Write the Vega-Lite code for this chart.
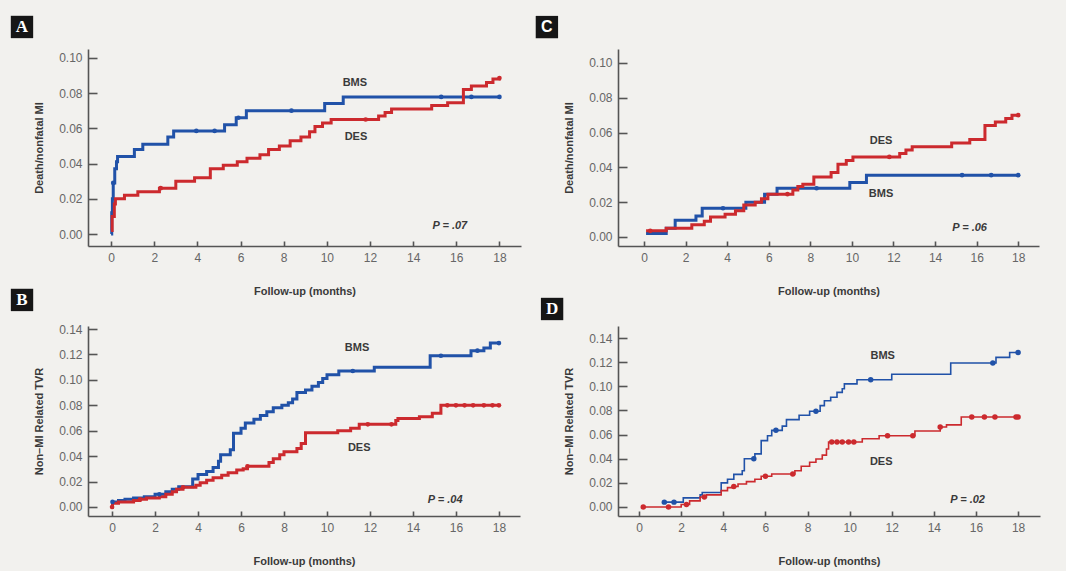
{
  "$schema": "https://vega.github.io/schema/vega-lite/v6.json",
  "background": "#f2f1ee",
  "padding": {"left": 10, "top": 15, "right": 26, "bottom": 5},
  "config": {
    "view": {"stroke": null},
    "axis": {"grid": false, "domainColor": "#555", "domainWidth": 1.6, "tickColor": "#555", "tickWidth": 1.6, "tickSize": -5,
      "labelFont": "Liberation Sans", "labelFontSize": 12, "labelColor": "#666", "labelPadding": 11,
      "titleFont": "Liberation Sans", "titleFontSize": 11, "titleFontWeight": "bold", "titleColor": "#3a3a3a"},
    "axisX": {"titlePadding": 22},
    "axisY": {"titlePadding": 14, "tickSize": -9, "labelPadding": 15}
  },
  "datasets": {
    "km": [
      {"panel":"A","group":"BMS","t":0,"v":0.0},{"panel":"A","group":"BMS","t":0.03,"v":0.012},{"panel":"A","group":"BMS","t":0.06,"v":0.02},{"panel":"A","group":"BMS","t":0.1,"v":0.029},{"panel":"A","group":"BMS","t":0.17,"v":0.037},{"panel":"A","group":"BMS","t":0.25,"v":0.041},{"panel":"A","group":"BMS","t":0.3,"v":0.044},{"panel":"A","group":"BMS","t":1.08,"v":0.048},{"panel":"A","group":"BMS","t":1.47,"v":0.051},{"panel":"A","group":"BMS","t":2.63,"v":0.055},{"panel":"A","group":"BMS","t":2.9,"v":0.0585},{"panel":"A","group":"BMS","t":5.26,"v":0.062},{"panel":"A","group":"BMS","t":5.8,"v":0.066},{"panel":"A","group":"BMS","t":6.27,"v":0.07},{"panel":"A","group":"BMS","t":9.9,"v":0.074},{"panel":"A","group":"BMS","t":10.76,"v":0.0778},{"panel":"A","group":"BMS","t":18,"v":0.0778},
      {"panel":"A","group":"DES","t":0,"v":0.002},{"panel":"A","group":"DES","t":0.05,"v":0.01},{"panel":"A","group":"DES","t":0.15,"v":0.017},{"panel":"A","group":"DES","t":0.2,"v":0.02},{"panel":"A","group":"DES","t":0.62,"v":0.022},{"panel":"A","group":"DES","t":1.24,"v":0.024},{"panel":"A","group":"DES","t":2.24,"v":0.026},{"panel":"A","group":"DES","t":3.0,"v":0.03},{"panel":"A","group":"DES","t":3.87,"v":0.032},{"panel":"A","group":"DES","t":4.6,"v":0.037},{"panel":"A","group":"DES","t":5.2,"v":0.039},{"panel":"A","group":"DES","t":5.85,"v":0.041},{"panel":"A","group":"DES","t":6.3,"v":0.043},{"panel":"A","group":"DES","t":6.9,"v":0.045},{"panel":"A","group":"DES","t":7.3,"v":0.048},{"panel":"A","group":"DES","t":7.8,"v":0.05},{"panel":"A","group":"DES","t":8.3,"v":0.053},{"panel":"A","group":"DES","t":8.8,"v":0.055},{"panel":"A","group":"DES","t":9.2,"v":0.058},{"panel":"A","group":"DES","t":9.45,"v":0.061},{"panel":"A","group":"DES","t":9.8,"v":0.063},{"panel":"A","group":"DES","t":10.2,"v":0.065},{"panel":"A","group":"DES","t":12.4,"v":0.067},{"panel":"A","group":"DES","t":12.7,"v":0.069},{"panel":"A","group":"DES","t":13.0,"v":0.071},{"panel":"A","group":"DES","t":14.86,"v":0.073},{"panel":"A","group":"DES","t":15.6,"v":0.0745},{"panel":"A","group":"DES","t":16.33,"v":0.082},{"panel":"A","group":"DES","t":16.7,"v":0.084},{"panel":"A","group":"DES","t":17.4,"v":0.086},{"panel":"A","group":"DES","t":17.7,"v":0.088},{"panel":"A","group":"DES","t":18,"v":0.0885},

      {"panel":"C","group":"BMS","t":0.1,"v":0.002},{"panel":"C","group":"BMS","t":1.07,"v":0.005},{"panel":"C","group":"BMS","t":1.5,"v":0.0096},{"panel":"C","group":"BMS","t":2.5,"v":0.012},{"panel":"C","group":"BMS","t":2.8,"v":0.0165},{"panel":"C","group":"BMS","t":4.9,"v":0.02},{"panel":"C","group":"BMS","t":5.8,"v":0.0245},{"panel":"C","group":"BMS","t":6.4,"v":0.028},{"panel":"C","group":"BMS","t":9.9,"v":0.0313},{"panel":"C","group":"BMS","t":10.7,"v":0.0355},{"panel":"C","group":"BMS","t":18,"v":0.0355},
      {"panel":"C","group":"DES","t":0.1,"v":0.0035},{"panel":"C","group":"DES","t":1.07,"v":0.005},{"panel":"C","group":"DES","t":2.3,"v":0.007},{"panel":"C","group":"DES","t":2.9,"v":0.009},{"panel":"C","group":"DES","t":3.2,"v":0.0115},{"panel":"C","group":"DES","t":3.9,"v":0.013},{"panel":"C","group":"DES","t":4.4,"v":0.015},{"panel":"C","group":"DES","t":4.8,"v":0.0184},{"panel":"C","group":"DES","t":5.35,"v":0.02},{"panel":"C","group":"DES","t":5.65,"v":0.022},{"panel":"C","group":"DES","t":5.96,"v":0.0246},{"panel":"C","group":"DES","t":7.16,"v":0.027},{"panel":"C","group":"DES","t":7.4,"v":0.029},{"panel":"C","group":"DES","t":7.64,"v":0.0303},{"panel":"C","group":"DES","t":8.17,"v":0.0345},{"panel":"C","group":"DES","t":9.0,"v":0.037},{"panel":"C","group":"DES","t":9.33,"v":0.0418},{"panel":"C","group":"DES","t":9.73,"v":0.044},{"panel":"C","group":"DES","t":10.05,"v":0.046},{"panel":"C","group":"DES","t":12.3,"v":0.048},{"panel":"C","group":"DES","t":12.6,"v":0.05},{"panel":"C","group":"DES","t":12.9,"v":0.0518},{"panel":"C","group":"DES","t":14.8,"v":0.054},{"panel":"C","group":"DES","t":15.67,"v":0.056},{"panel":"C","group":"DES","t":16.4,"v":0.064},{"panel":"C","group":"DES","t":16.9,"v":0.066},{"panel":"C","group":"DES","t":17.4,"v":0.068},{"panel":"C","group":"DES","t":17.7,"v":0.07},{"panel":"C","group":"DES","t":18,"v":0.07},

      {"panel":"B","group":"BMS","t":0,"v":0.0},{"panel":"B","group":"BMS","t":0.02,"v":0.004},{"panel":"B","group":"BMS","t":0.3,"v":0.005},{"panel":"B","group":"BMS","t":0.6,"v":0.006},{"panel":"B","group":"BMS","t":1.0,"v":0.007},{"panel":"B","group":"BMS","t":1.5,"v":0.008},{"panel":"B","group":"BMS","t":2.0,"v":0.01},{"panel":"B","group":"BMS","t":2.5,"v":0.012},{"panel":"B","group":"BMS","t":2.8,"v":0.014},{"panel":"B","group":"BMS","t":3.1,"v":0.016},{"panel":"B","group":"BMS","t":3.75,"v":0.022},{"panel":"B","group":"BMS","t":4.0,"v":0.0255},{"panel":"B","group":"BMS","t":4.4,"v":0.028},{"panel":"B","group":"BMS","t":4.7,"v":0.031},{"panel":"B","group":"BMS","t":4.95,"v":0.036},{"panel":"B","group":"BMS","t":5.05,"v":0.041},{"panel":"B","group":"BMS","t":5.5,"v":0.045},{"panel":"B","group":"BMS","t":5.65,"v":0.058},{"panel":"B","group":"BMS","t":6.0,"v":0.062},{"panel":"B","group":"BMS","t":6.2,"v":0.066},{"panel":"B","group":"BMS","t":6.6,"v":0.069},{"panel":"B","group":"BMS","t":6.9,"v":0.072},{"panel":"B","group":"BMS","t":7.2,"v":0.075},{"panel":"B","group":"BMS","t":7.5,"v":0.078},{"panel":"B","group":"BMS","t":7.9,"v":0.08},{"panel":"B","group":"BMS","t":8.2,"v":0.082},{"panel":"B","group":"BMS","t":8.4,"v":0.085},{"panel":"B","group":"BMS","t":8.6,"v":0.09},{"panel":"B","group":"BMS","t":9.0,"v":0.092},{"panel":"B","group":"BMS","t":9.3,"v":0.095},{"panel":"B","group":"BMS","t":9.6,"v":0.098},{"panel":"B","group":"BMS","t":9.8,"v":0.101},{"panel":"B","group":"BMS","t":10.0,"v":0.104},{"panel":"B","group":"BMS","t":10.55,"v":0.107},{"panel":"B","group":"BMS","t":12.2,"v":0.11},{"panel":"B","group":"BMS","t":14.8,"v":0.119},{"panel":"B","group":"BMS","t":16.7,"v":0.123},{"panel":"B","group":"BMS","t":17.3,"v":0.125},{"panel":"B","group":"BMS","t":17.6,"v":0.129},{"panel":"B","group":"BMS","t":18,"v":0.129},
      {"panel":"B","group":"DES","t":0,"v":0.0},{"panel":"B","group":"DES","t":0.02,"v":0.003},{"panel":"B","group":"DES","t":0.3,"v":0.004},{"panel":"B","group":"DES","t":1.0,"v":0.005},{"panel":"B","group":"DES","t":1.3,"v":0.006},{"panel":"B","group":"DES","t":1.6,"v":0.007},{"panel":"B","group":"DES","t":2.2,"v":0.008},{"panel":"B","group":"DES","t":2.5,"v":0.01},{"panel":"B","group":"DES","t":2.8,"v":0.012},{"panel":"B","group":"DES","t":3.0,"v":0.014},{"panel":"B","group":"DES","t":3.3,"v":0.0155},{"panel":"B","group":"DES","t":3.9,"v":0.017},{"panel":"B","group":"DES","t":4.1,"v":0.019},{"panel":"B","group":"DES","t":4.4,"v":0.021},{"panel":"B","group":"DES","t":4.7,"v":0.023},{"panel":"B","group":"DES","t":5.1,"v":0.025},{"panel":"B","group":"DES","t":5.4,"v":0.027},{"panel":"B","group":"DES","t":5.8,"v":0.029},{"panel":"B","group":"DES","t":6.1,"v":0.03},{"panel":"B","group":"DES","t":6.3,"v":0.032},{"panel":"B","group":"DES","t":7.3,"v":0.035},{"panel":"B","group":"DES","t":7.5,"v":0.038},{"panel":"B","group":"DES","t":7.8,"v":0.041},{"panel":"B","group":"DES","t":8.0,"v":0.0434},{"panel":"B","group":"DES","t":8.6,"v":0.046},{"panel":"B","group":"DES","t":8.8,"v":0.05},{"panel":"B","group":"DES","t":9.0,"v":0.0584},{"panel":"B","group":"DES","t":10.5,"v":0.06},{"panel":"B","group":"DES","t":11.1,"v":0.062},{"panel":"B","group":"DES","t":11.5,"v":0.065},{"panel":"B","group":"DES","t":13.2,"v":0.068},{"panel":"B","group":"DES","t":13.3,"v":0.0697},{"panel":"B","group":"DES","t":14.3,"v":0.071},{"panel":"B","group":"DES","t":14.9,"v":0.0737},{"panel":"B","group":"DES","t":15.3,"v":0.08},{"panel":"B","group":"DES","t":18,"v":0.08},

      {"panel":"D","group":"BMS","t":1.2,"v":0.004},{"panel":"D","group":"BMS","t":2.1,"v":0.0075},{"panel":"D","group":"BMS","t":2.9,"v":0.01},{"panel":"D","group":"BMS","t":3.0,"v":0.012},{"panel":"D","group":"BMS","t":3.9,"v":0.02},{"panel":"D","group":"BMS","t":4.2,"v":0.023},{"panel":"D","group":"BMS","t":4.5,"v":0.027},{"panel":"D","group":"BMS","t":4.9,"v":0.03},{"panel":"D","group":"BMS","t":5.0,"v":0.04},{"panel":"D","group":"BMS","t":5.5,"v":0.044},{"panel":"D","group":"BMS","t":5.8,"v":0.055},{"panel":"D","group":"BMS","t":6.1,"v":0.059},{"panel":"D","group":"BMS","t":6.3,"v":0.0635},{"panel":"D","group":"BMS","t":6.8,"v":0.067},{"panel":"D","group":"BMS","t":7.0,"v":0.0724},{"panel":"D","group":"BMS","t":7.6,"v":0.076},{"panel":"D","group":"BMS","t":8.1,"v":0.0793},{"panel":"D","group":"BMS","t":8.6,"v":0.084},{"panel":"D","group":"BMS","t":8.8,"v":0.088},{"panel":"D","group":"BMS","t":9.1,"v":0.091},{"panel":"D","group":"BMS","t":9.4,"v":0.095},{"panel":"D","group":"BMS","t":9.65,"v":0.098},{"panel":"D","group":"BMS","t":9.75,"v":0.102},{"panel":"D","group":"BMS","t":10.35,"v":0.1055},{"panel":"D","group":"BMS","t":12.0,"v":0.11},{"panel":"D","group":"BMS","t":14.8,"v":0.1193},{"panel":"D","group":"BMS","t":16.95,"v":0.124},{"panel":"D","group":"BMS","t":17.6,"v":0.128},{"panel":"D","group":"BMS","t":18,"v":0.128},
      {"panel":"D","group":"DES","t":0.2,"v":0.0},{"panel":"D","group":"DES","t":2.0,"v":0.002},{"panel":"D","group":"DES","t":2.4,"v":0.005},{"panel":"D","group":"DES","t":2.9,"v":0.0083},{"panel":"D","group":"DES","t":3.2,"v":0.01},{"panel":"D","group":"DES","t":3.9,"v":0.0135},{"panel":"D","group":"DES","t":4.2,"v":0.016},{"panel":"D","group":"DES","t":4.5,"v":0.017},{"panel":"D","group":"DES","t":4.7,"v":0.019},{"panel":"D","group":"DES","t":5.1,"v":0.021},{"panel":"D","group":"DES","t":5.5,"v":0.023},{"panel":"D","group":"DES","t":5.8,"v":0.0254},{"panel":"D","group":"DES","t":6.3,"v":0.0273},{"panel":"D","group":"DES","t":7.4,"v":0.03},{"panel":"D","group":"DES","t":7.7,"v":0.0337},{"panel":"D","group":"DES","t":8.1,"v":0.037},{"panel":"D","group":"DES","t":8.4,"v":0.0398},{"panel":"D","group":"DES","t":8.7,"v":0.043},{"panel":"D","group":"DES","t":8.9,"v":0.048},{"panel":"D","group":"DES","t":9.0,"v":0.0539},{"panel":"D","group":"DES","t":10.6,"v":0.0565},{"panel":"D","group":"DES","t":11.4,"v":0.059},{"panel":"D","group":"DES","t":13.1,"v":0.063},{"panel":"D","group":"DES","t":14.3,"v":0.0663},{"panel":"D","group":"DES","t":14.6,"v":0.068},{"panel":"D","group":"DES","t":15.3,"v":0.0746},{"panel":"D","group":"DES","t":18,"v":0.0746}
    ],
    "cens": [
      {"panel":"A","group":"BMS","t":0.1,"v":0.029},{"panel":"A","group":"BMS","t":3.95,"v":0.0585},{"panel":"A","group":"BMS","t":4.8,"v":0.0585},{"panel":"A","group":"BMS","t":5.9,"v":0.066},{"panel":"A","group":"BMS","t":8.36,"v":0.07},{"panel":"A","group":"BMS","t":15.3,"v":0.0778},{"panel":"A","group":"BMS","t":16.7,"v":0.0778},{"panel":"A","group":"BMS","t":18,"v":0.0778},
      {"panel":"A","group":"DES","t":2.3,"v":0.026},{"panel":"A","group":"DES","t":11.8,"v":0.065},{"panel":"A","group":"DES","t":18,"v":0.0885},
      {"panel":"C","group":"BMS","t":3.8,"v":0.0165},{"panel":"C","group":"BMS","t":8.3,"v":0.028},{"panel":"C","group":"BMS","t":15.3,"v":0.0355},{"panel":"C","group":"BMS","t":16.7,"v":0.0355},{"panel":"C","group":"BMS","t":18,"v":0.0355},
      {"panel":"C","group":"DES","t":0.3,"v":0.0035},{"panel":"C","group":"DES","t":6.9,"v":0.0246},{"panel":"C","group":"DES","t":11.8,"v":0.046},{"panel":"C","group":"DES","t":18,"v":0.07},
      {"panel":"B","group":"BMS","t":0.02,"v":0.004},{"panel":"B","group":"BMS","t":2.2,"v":0.01},{"panel":"B","group":"BMS","t":11.2,"v":0.107},{"panel":"B","group":"BMS","t":15.3,"v":0.119},{"panel":"B","group":"BMS","t":17.0,"v":0.123},{"panel":"B","group":"BMS","t":18,"v":0.129},
      {"panel":"B","group":"DES","t":0,"v":0.0},{"panel":"B","group":"DES","t":1.3,"v":0.006},{"panel":"B","group":"DES","t":3.3,"v":0.0155},{"panel":"B","group":"DES","t":6.3,"v":0.032},{"panel":"B","group":"DES","t":11.9,"v":0.065},{"panel":"B","group":"DES","t":13.0,"v":0.065},{"panel":"B","group":"DES","t":15.6,"v":0.08},{"panel":"B","group":"DES","t":16.0,"v":0.08},{"panel":"B","group":"DES","t":16.4,"v":0.08},{"panel":"B","group":"DES","t":16.8,"v":0.08},{"panel":"B","group":"DES","t":17.3,"v":0.08},{"panel":"B","group":"DES","t":17.7,"v":0.08},{"panel":"B","group":"DES","t":18,"v":0.08},
      {"panel":"D","group":"BMS","t":1.2,"v":0.004},{"panel":"D","group":"BMS","t":1.66,"v":0.004},{"panel":"D","group":"BMS","t":5.45,"v":0.04},{"panel":"D","group":"BMS","t":6.5,"v":0.0635},{"panel":"D","group":"BMS","t":8.4,"v":0.0793},{"panel":"D","group":"BMS","t":11.0,"v":0.1055},{"panel":"D","group":"BMS","t":16.8,"v":0.1193},{"panel":"D","group":"BMS","t":18,"v":0.128},
      {"panel":"D","group":"DES","t":0.2,"v":0.0},{"panel":"D","group":"DES","t":1.4,"v":0.0},{"panel":"D","group":"DES","t":2.25,"v":0.002},{"panel":"D","group":"DES","t":3.1,"v":0.0083},{"panel":"D","group":"DES","t":4.5,"v":0.017},{"panel":"D","group":"DES","t":6.0,"v":0.0254},{"panel":"D","group":"DES","t":7.3,"v":0.0273},{"panel":"D","group":"DES","t":9.15,"v":0.0539},{"panel":"D","group":"DES","t":9.4,"v":0.0539},{"panel":"D","group":"DES","t":9.65,"v":0.0539},{"panel":"D","group":"DES","t":9.95,"v":0.0539},{"panel":"D","group":"DES","t":10.2,"v":0.0539},{"panel":"D","group":"DES","t":11.8,"v":0.059},{"panel":"D","group":"DES","t":13.0,"v":0.059},{"panel":"D","group":"DES","t":14.3,"v":0.0663},{"panel":"D","group":"DES","t":15.8,"v":0.0746},{"panel":"D","group":"DES","t":16.4,"v":0.0746},{"panel":"D","group":"DES","t":16.9,"v":0.0746},{"panel":"D","group":"DES","t":17.9,"v":0.0746},{"panel":"D","group":"DES","t":18,"v":0.0746}
    ],
    "ann": [
      {"panel":"A","kind":"grp","t":11.3,"v":0.0856,"label":"BMS"},{"panel":"A","kind":"grp","t":11.35,"v":0.055,"label":"DES"},{"panel":"A","kind":"p","t":15.7,"v":0.0045,"label":"P = .07"},{"panel":"A","kind":"box","t":-4.13,"v":0.1175,"label":"A"},
      {"panel":"C","kind":"grp","t":11.4,"v":0.0553,"label":"DES"},{"panel":"C","kind":"grp","t":11.4,"v":0.0246,"label":"BMS"},{"panel":"C","kind":"p","t":15.66,"v":0.0054,"label":"P = .06"},{"panel":"C","kind":"box","t":-4.67,"v":0.1206,"label":"C"},
      {"panel":"B","kind":"grp","t":11.4,"v":0.1247,"label":"BMS"},{"panel":"B","kind":"grp","t":11.5,"v":0.0466,"label":"DES"},{"panel":"B","kind":"p","t":15.5,"v":0.0058,"label":"P = .04"},{"panel":"B","kind":"box","t":-4.19,"v":0.1629,"label":"B"},
      {"panel":"D","kind":"grp","t":11.57,"v":0.1254,"label":"BMS"},{"panel":"D","kind":"grp","t":11.5,"v":0.037,"label":"DES"},{"panel":"D","kind":"p","t":15.6,"v":0.006,"label":"P = .02"},{"panel":"D","kind":"box","t":-4.13,"v":0.1641,"label":"D"}
    ]
  },
  "columns": 2,
  "spacing": {"row": 80, "column": 97},
  "bounds": "flush",
  "concat": [
    {
      "width": 433, "height": 197,
      "encoding": {
        "x": {"field": "t", "type": "quantitative", "scale": {"domain": [-1.07, 19.0], "nice": false, "zero": false}, "axis": {"values": [0,2,4,6,8,10,12,14,16,18], "title": "Follow-up (months)"}},
        "y": {"field": "v", "type": "quantitative", "scale": {"domain": [-0.0068, 0.105], "nice": false, "zero": false}, "axis": {"values": [0,0.02,0.04,0.06,0.08,0.1], "format": ".2f", "title": "Death/nonfatal MI"}}
      },
      "layer": [
        {"data": {"name": "km"}, "transform": [{"filter": "datum.panel === 'A'"}], "mark": {"type": "line", "interpolate": "step-after", "strokeWidth": 3},
         "encoding": {"color": {"field": "group", "type": "nominal", "scale": {"domain": ["BMS", "DES"], "range": ["#2152a8", "#cc2a2e"]}, "legend": null}}},
        {"data": {"name": "cens"}, "transform": [{"filter": "datum.panel === 'A'"}], "mark": {"type": "point", "filled": true, "size": 22, "opacity": 1},
         "encoding": {"color": {"field": "group", "type": "nominal", "scale": {"domain": ["BMS", "DES"], "range": ["#2152a8", "#cc2a2e"]}, "legend": null}}},
        {"data": {"name": "ann"}, "transform": [{"filter": "datum.panel === 'A' && datum.kind === 'grp'"}], "mark": {"type": "text", "font": "Liberation Sans", "fontWeight": "bold", "fontSize": 11, "color": "#3a3a3a"}, "encoding": {"text": {"field": "label"}}},
        {"data": {"name": "ann"}, "transform": [{"filter": "datum.panel === 'A' && datum.kind === 'p'"}], "mark": {"type": "text", "font": "Liberation Sans", "fontWeight": "bold", "fontStyle": "italic", "fontSize": 11, "color": "#3a3a3a"}, "encoding": {"text": {"field": "label"}}},
        {"data": {"name": "ann"}, "transform": [{"filter": "datum.panel === 'A' && datum.kind === 'box'"}], "mark": {"type": "square", "size": 500, "color": "#161616", "opacity": 1}},
        {"data": {"name": "ann"}, "transform": [{"filter": "datum.panel === 'A' && datum.kind === 'box'"}], "mark": {"type": "text", "font": "Liberation Serif", "fontWeight": "bold", "fontSize": 17, "color": "white"}, "encoding": {"text": {"field": "label"}}}
      ]
    },
    {
      "width": 421, "height": 197,
      "encoding": {
        "x": {"field": "t", "type": "quantitative", "scale": {"domain": [-1.25, 19.0], "nice": false, "zero": false}, "axis": {"values": [0,2,4,6,8,10,12,14,16,18], "title": "Follow-up (months)"}},
        "y": {"field": "v", "type": "quantitative", "scale": {"domain": [-0.0052, 0.108], "nice": false, "zero": false}, "axis": {"values": [0,0.02,0.04,0.06,0.08,0.1], "format": ".2f", "title": "Death/nonfatal MI"}}
      },
      "layer": [
        {"data": {"name": "km"}, "transform": [{"filter": "datum.panel === 'C'"}], "mark": {"type": "line", "interpolate": "step-after", "strokeWidth": 3},
         "encoding": {"color": {"field": "group", "type": "nominal", "scale": {"domain": ["BMS", "DES"], "range": ["#2152a8", "#cc2a2e"]}, "legend": null}}},
        {"data": {"name": "cens"}, "transform": [{"filter": "datum.panel === 'C'"}], "mark": {"type": "point", "filled": true, "size": 22, "opacity": 1},
         "encoding": {"color": {"field": "group", "type": "nominal", "scale": {"domain": ["BMS", "DES"], "range": ["#2152a8", "#cc2a2e"]}, "legend": null}}},
        {"data": {"name": "ann"}, "transform": [{"filter": "datum.panel === 'C' && datum.kind === 'grp'"}], "mark": {"type": "text", "font": "Liberation Sans", "fontWeight": "bold", "fontSize": 11, "color": "#3a3a3a"}, "encoding": {"text": {"field": "label"}}},
        {"data": {"name": "ann"}, "transform": [{"filter": "datum.panel === 'C' && datum.kind === 'p'"}], "mark": {"type": "text", "font": "Liberation Sans", "fontWeight": "bold", "fontStyle": "italic", "fontSize": 11, "color": "#3a3a3a"}, "encoding": {"text": {"field": "label"}}},
        {"data": {"name": "ann"}, "transform": [{"filter": "datum.panel === 'C' && datum.kind === 'box'"}], "mark": {"type": "square", "size": 500, "color": "#161616", "opacity": 1}},
        {"data": {"name": "ann"}, "transform": [{"filter": "datum.panel === 'C' && datum.kind === 'box'"}], "mark": {"type": "text", "font": "Liberation Sans", "fontWeight": "bold", "fontSize": 16, "color": "white"}, "encoding": {"text": {"field": "label"}}}
      ]
    },
    {
      "width": 432, "height": 190,
      "encoding": {
        "x": {"field": "t", "type": "quantitative", "scale": {"domain": [-1.12, 18.98], "nice": false, "zero": false}, "axis": {"values": [0,2,4,6,8,10,12,14,16,18], "title": "Follow-up (months)"}},
        "y": {"field": "v", "type": "quantitative", "scale": {"domain": [-0.0071, 0.1424], "nice": false, "zero": false}, "axis": {"values": [0,0.02,0.04,0.06,0.08,0.1,0.12,0.14], "format": ".2f", "title": "Non\u2013MI Related TVR"}}
      },
      "layer": [
        {"data": {"name": "km"}, "transform": [{"filter": "datum.panel === 'B'"}], "mark": {"type": "line", "interpolate": "step-after", "strokeWidth": 3},
         "encoding": {"color": {"field": "group", "type": "nominal", "scale": {"domain": ["BMS", "DES"], "range": ["#2152a8", "#cc2a2e"]}, "legend": null}}},
        {"data": {"name": "cens"}, "transform": [{"filter": "datum.panel === 'B'"}], "mark": {"type": "point", "filled": true, "size": 22, "opacity": 1},
         "encoding": {"color": {"field": "group", "type": "nominal", "scale": {"domain": ["BMS", "DES"], "range": ["#2152a8", "#cc2a2e"]}, "legend": null}}},
        {"data": {"name": "ann"}, "transform": [{"filter": "datum.panel === 'B' && datum.kind === 'grp'"}], "mark": {"type": "text", "font": "Liberation Sans", "fontWeight": "bold", "fontSize": 11, "color": "#3a3a3a"}, "encoding": {"text": {"field": "label"}}},
        {"data": {"name": "ann"}, "transform": [{"filter": "datum.panel === 'B' && datum.kind === 'p'"}], "mark": {"type": "text", "font": "Liberation Sans", "fontWeight": "bold", "fontStyle": "italic", "fontSize": 11, "color": "#3a3a3a"}, "encoding": {"text": {"field": "label"}}},
        {"data": {"name": "ann"}, "transform": [{"filter": "datum.panel === 'B' && datum.kind === 'box'"}], "mark": {"type": "square", "size": 500, "color": "#161616", "opacity": 1}},
        {"data": {"name": "ann"}, "transform": [{"filter": "datum.panel === 'B' && datum.kind === 'box'"}], "mark": {"type": "text", "font": "Liberation Serif", "fontWeight": "bold", "fontSize": 17, "color": "white"}, "encoding": {"text": {"field": "label"}}}
      ]
    },
    {
      "width": 422, "height": 190,
      "encoding": {
        "x": {"field": "t", "type": "quantitative", "scale": {"domain": [-1.0, 19.04], "nice": false, "zero": false}, "axis": {"values": [0,2,4,6,8,10,12,14,16,18], "title": "Follow-up (months)"}},
        "y": {"field": "v", "type": "quantitative", "scale": {"domain": [-0.0075, 0.15], "nice": false, "zero": false}, "axis": {"values": [0,0.02,0.04,0.06,0.08,0.1,0.12,0.14], "format": ".2f", "title": "Non\u2013MI Related TVR"}}
      },
      "layer": [
        {"data": {"name": "km"}, "transform": [{"filter": "datum.panel === 'D'"}], "mark": {"type": "line", "interpolate": "step-after", "strokeWidth": 1.6},
         "encoding": {"color": {"field": "group", "type": "nominal", "scale": {"domain": ["BMS", "DES"], "range": ["#2152a8", "#cc2a2e"]}, "legend": null}}},
        {"data": {"name": "cens"}, "transform": [{"filter": "datum.panel === 'D'"}], "mark": {"type": "point", "filled": true, "size": 30, "opacity": 1},
         "encoding": {"color": {"field": "group", "type": "nominal", "scale": {"domain": ["BMS", "DES"], "range": ["#2152a8", "#cc2a2e"]}, "legend": null}}},
        {"data": {"name": "ann"}, "transform": [{"filter": "datum.panel === 'D' && datum.kind === 'grp'"}], "mark": {"type": "text", "font": "Liberation Sans", "fontWeight": "bold", "fontSize": 11, "color": "#3a3a3a"}, "encoding": {"text": {"field": "label"}}},
        {"data": {"name": "ann"}, "transform": [{"filter": "datum.panel === 'D' && datum.kind === 'p'"}], "mark": {"type": "text", "font": "Liberation Sans", "fontWeight": "bold", "fontStyle": "italic", "fontSize": 11, "color": "#3a3a3a"}, "encoding": {"text": {"field": "label"}}},
        {"data": {"name": "ann"}, "transform": [{"filter": "datum.panel === 'D' && datum.kind === 'box'"}], "mark": {"type": "square", "size": 500, "color": "#161616", "opacity": 1}},
        {"data": {"name": "ann"}, "transform": [{"filter": "datum.panel === 'D' && datum.kind === 'box'"}], "mark": {"type": "text", "font": "Liberation Serif", "fontWeight": "bold", "fontSize": 17, "color": "white"}, "encoding": {"text": {"field": "label"}}}
      ]
    }
  ]
}
